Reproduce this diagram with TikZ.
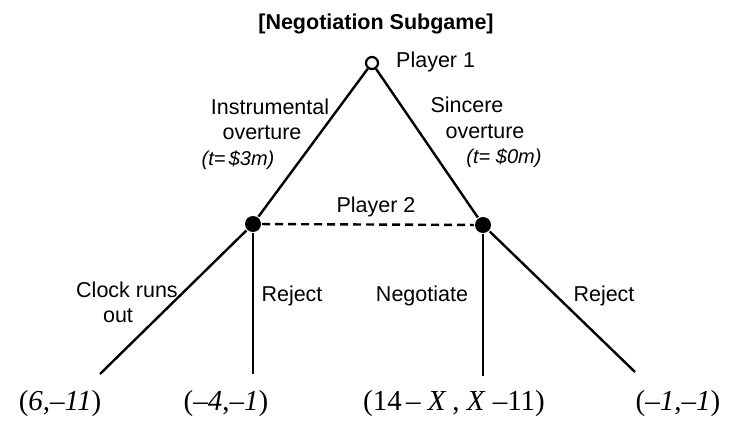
\documentclass[tikz,border=0pt]{standalone}
\usepackage{fontspec}
\setmainfont{Liberation Sans}
\newfontfamily\payfont{Liberation Serif}

\tikzset{
  opennode/.style={circle,draw,line width=2.2pt,fill=white,inner sep=0pt,minimum size=12pt},
  fullnode/.style={circle,fill,inner sep=0pt,minimum size=16pt},
  lbl/.style={inner sep=0pt,anchor=base,font=\fontsize{21.5}{25}\selectfont},
  small/.style={inner sep=0pt,anchor=base,font=\fontsize{20}{23}\selectfont\itshape},
  pay/.style={inner sep=0pt,anchor=base,font=\fontsize{29}{33}\selectfont\payfont}
}

\begin{document}
\begin{tikzpicture}[x=1pt,y=1pt,line width=2.4pt]
\useasboundingbox (0,0) rectangle (730,421);

\node[lbl,font=\fontsize{21.5}{25}\selectfont\bfseries] (title) at (376,391) {[Negotiation Subgame]};

% decision nodes
\node[opennode] (p1) at (372,358) {};
\node[fullnode] (p2a) at (253,197) {};
\node[fullnode] (p2b) at (483,196) {};
\node[lbl,anchor=base west] (p1name) at (395,353) {Player 1};
\node[lbl] (p2name) at (376,209) {Player 2};

% ends of the branches
\coordinate (clock) at (100,47);
\coordinate (rejA) at (253,47);
\coordinate (nego) at (483,45);
\coordinate (rejB) at (635,49);

\draw (p1) -- (p2a);
\draw (p1) -- (p2b);
\draw[dashed,dash pattern=on 8pt off 5pt,line width=2.4pt] (p2a) -- (p2b);
\draw (p2a) -- (clock);
\draw (p2a) -- (rejA);
\draw (p2b) -- (nego);
\draw (p2b) -- (rejB);

% move labels
\node[lbl] (instr) at (270,306) {Instrumental};
\node[lbl] (overA) at (262,281) {overture};
\node[small] (costA) at (238,256) {(t=\,\$3m)};
\node[lbl] (sinc) at (467,308) {Sincere};
\node[lbl] (overB) at (485,283) {overture};
\node[small] (costB) at (504,258) {(t= \$0m)};
\node[lbl] (clk) at (127,124) {Clock runs};
\node[lbl] (out) at (118,99) {out};
\node[lbl] (rjA) at (292,120) {Reject};
\node[lbl] (ngt) at (422,120) {Negotiate};
\node[lbl] (rjB) at (604,120) {Reject};

% payoffs
\node[pay] (payA) at (60,11) {(\textit{6},\textit{–11})};
\node[pay] (payB) at (226,11) {(\textit{–4},\textit{–1})};
\node[pay] (payC) at (454,11) {(14\hspace{.15em}–\hspace{.25em}\textit{X}\hspace{.2em},\hspace{.25em}\textit{X}\hspace{.25em}–11)};
\node[pay] (payD) at (678,11) {(\textit{–1},\textit{–1})};
\end{tikzpicture}
\end{document}
